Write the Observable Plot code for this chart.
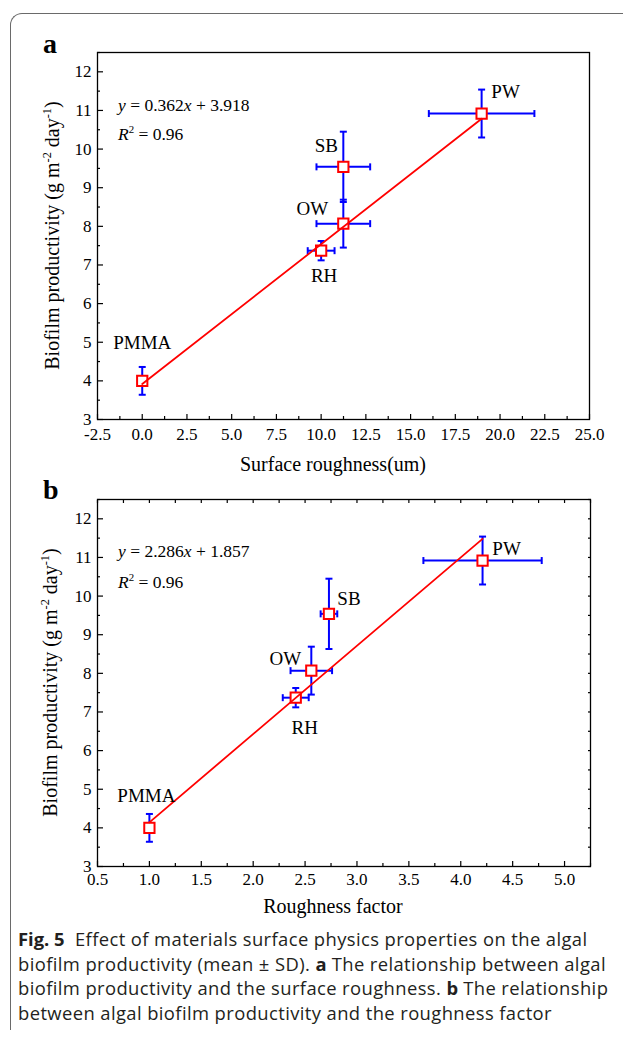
<!DOCTYPE html>
<html><head><meta charset="utf-8">
<script src="https://cdn.jsdelivr.net/npm/d3@7"></script>
<script src="https://cdn.jsdelivr.net/npm/@observablehq/plot@0.6"></script>
<style>
body{margin:0;background:#fff;width:623px;height:1037px;position:relative;overflow:hidden;}
#border{position:absolute;left:10px;top:13px;width:700px;height:1016px;border-left:1.4px solid #6a6a6a;border-top:1.4px solid #6a6a6a;border-top-left-radius:12px;}
#pa{position:absolute;left:0;top:0;}
#pb{position:absolute;left:0;top:447px;}
#cap{position:absolute;left:18px;top:927px;width:610px;font-family:"Open Sans",sans-serif;font-size:18.4px;letter-spacing:0.4px;line-height:24.7px;color:#231f20;white-space:nowrap;}
#cap b{font-weight:700;letter-spacing:0;}
svg text{font-family:"Liberation Serif","Times New Roman",serif;}
</style></head><body>
<div id="border"></div>
<div id="pa"></div>
<div id="pb"></div>
<div id="cap"><b>Fig. 5</b>&nbsp; Effect of materials surface physics properties on the algal<br>biofilm productivity (mean ± SD). <b>a</b> The relationship between algal<br>biofilm productivity and the surface roughness. <b>b</b> The relationship<br>between algal biofilm productivity and the roughness factor</div>
<script>
// ---------- data ----------
const materials = ["PMMA", "RH", "OW", "SB", "PW"];
const productivity = [4.0, 7.37, 8.07, 9.54, 10.92];
const productivitySD = [0.36, 0.25, 0.62, 0.91, 0.62];
const roughness = [0.0, 10.0, 11.24, 11.24, 18.97];
const roughnessSD = [0.0, 0.75, 1.5, 1.5, 2.95];
const roughnessFactor = [1.0, 2.41, 2.56, 2.73, 4.21];
const roughnessFactorSD = [0.04, 0.125, 0.2, 0.08, 0.57];
const fitSlopeA = 0.362, fitInterceptA = 3.918;
const fitSlopeB = 2.286, fitInterceptB = 1.857;
const r2A = "0.96", r2B = "0.96";

const yMajor = [3, 4, 5, 6, 7, 8, 9, 10, 11, 12];
const yMinor = [3.5, 4.5, 5.5, 6.5, 7.5, 8.5, 9.5, 10.5, 11.5, 12.5];
const xMajorA = [-2.5, 0, 2.5, 5, 7.5, 10, 12.5, 15, 17.5, 20, 22.5, 25];
const xMinorA = [-1.25, 1.25, 3.75, 6.25, 8.75, 11.25, 13.75, 16.25, 18.75, 21.25, 23.75];
const xMajorB = [0.5, 1.0, 1.5, 2.0, 2.5, 3.0, 3.5, 4.0, 4.5, 5.0];
const xMinorB = [0.75, 1.25, 1.75, 2.25, 2.75, 3.25, 3.75, 4.25, 4.75, 5.25];
const xTopB = [0.5, 0.75, 1.0, 1.25, 1.5, 1.75, 2.0, 2.25, 2.5, 2.75, 3.0, 3.25, 3.5, 3.75, 4.0, 4.25, 4.5, 4.75, 5.0, 5.25];
const yRightB = [3, 3.5, 4, 4.5, 5, 5.5, 6, 6.5, 7, 7.5, 8, 8.5, 9, 9.5, 10, 10.5, 11, 11.5, 12, 12.5];

// label offsets (px) for each material: [dx, dy]
const labelOffsetA = [[0, -38], [3, 25], [-31, -15], [-17, -21], [24, -22]];
const labelOffsetB = [[-3, -32], [9, 30], [-26, -12], [20, -15], [24, -12]];

// ---------- helpers ----------
const BLUE = "#0000ff", RED = "#ff0000";
const hCap = {draw(c) { c.moveTo(-3.5, 0); c.lineTo(3.5, 0); }};
const vCap = {draw(c) { c.moveTo(0, -3.5); c.lineTo(0, 3.5); }};
const fmt1 = d => d.toFixed(1);

function rowsFor(xs, xsd) {
  return materials.map((m, i) => ({name: m, x: xs[i], xsd: xsd[i], y: productivity[i], ysd: productivitySD[i]}));
}

function panel(rows, fit, opts) {
  const vCaps = rows.flatMap(d => [{x: d.x, y: d.y - d.ysd}, {x: d.x, y: d.y + d.ysd}]);
  const hRows = rows.filter(d => d.xsd > 0);
  const hCaps = hRows.flatMap(d => [{x: d.x - d.xsd, y: d.y}, {x: d.x + d.xsd, y: d.y}]);
  const marks = [
    Plot.axisX({ticks: opts.xMajor, tickSize: -5, fill: "none", label: null, strokeWidth: 1.2}),
    Plot.axisX({ticks: opts.xMinor, tickSize: -3, fill: "none", label: null, strokeWidth: 1.2}),
    Plot.axisX({ticks: opts.xMajor, tickSize: 0, tickPadding: opts.xPad, tickFormat: fmt1, label: null, fontSize: 17}),
    Plot.axisY({ticks: yMajor, tickSize: -6, fill: "none", label: null, strokeWidth: 1.2}),
    Plot.axisY({ticks: yMinor, tickSize: -3, fill: "none", label: null, strokeWidth: 1.2}),
    Plot.axisY({ticks: yMajor, tickSize: 0, tickPadding: 6, label: null, fontSize: 17}),
  ];
  if (opts.xTop) marks.push(Plot.axisX({anchor: "top", ticks: opts.xTop, tickSize: -3, fill: "none", label: null, strokeWidth: 1.2}));
  if (opts.yRight) marks.push(Plot.axisY({anchor: "right", ticks: opts.yRight, tickSize: -3, fill: "none", label: null, strokeWidth: 1.2}));
  marks.push(
    Plot.frame({stroke: "black", strokeWidth: 1.3}),
    Plot.ruleX(rows, {x: "x", y1: d => d.y - d.ysd, y2: d => d.y + d.ysd, stroke: BLUE, strokeWidth: 2}),
    Plot.ruleY(hRows, {y: "y", x1: d => d.x - d.xsd, x2: d => d.x + d.xsd, stroke: BLUE, strokeWidth: 2}),
    Plot.dot(vCaps, {x: "x", y: "y", symbol: hCap, fill: "none", stroke: BLUE, strokeWidth: 2}),
    Plot.dot(hCaps, {x: "x", y: "y", symbol: vCap, fill: "none", stroke: BLUE, strokeWidth: 2}),
    Plot.dot(rows, {x: "x", y: "y", symbol: "square", r: 5.8, fill: "white", stroke: RED, strokeWidth: 2}),
    Plot.line(fit, {x: "x", y: "y", stroke: RED, strokeWidth: 1.8}),
    ...rows.map((d, i) => Plot.text([d], {x: "x", y: "y", text: "name", dx: opts.offsets[i][0], dy: opts.offsets[i][1], fontSize: 19, fill: "black"}))
  );
  return Plot.plot({
    width: 623, height: 480,
    marginLeft: 97, marginRight: opts.mr, marginTop: 52, marginBottom: 61,
    x: {domain: opts.xDomain},
    y: {domain: [3, 12.5]},
    style: {fontFamily: "'Liberation Serif','Times New Roman',serif", fontSize: "17px", color: "black", background: "transparent", overflow: "visible"},
    marks
  });
}

function addRich(svg, x, y, parts, size, transform, anchor) {
  const t = d3.select(svg).append("text")
    .attr("x", x).attr("y", y)
    .attr("text-anchor", anchor || "start")
    .attr("font-size", size).attr("fill", "black");
  if (transform) t.attr("transform", transform);
  parts.forEach(p => {
    const s = t.append("tspan").text(p.t);
    if (p.i) s.attr("font-style", "italic");
    if (p.sup) s.attr("dy", -size * 0.42).attr("font-size", size * 0.62);
    if (p.after) s.attr("dy", size * 0.42);
  });
  return t;
}

function decorate(svg, o) {
  const sx = svg.scale("x"), sy = svg.scale("y");
  const fx = sx.range[0], fy = sy.range[1], fb = sy.range[0];
  // panel letter
  d3.select(svg).append("text").attr("x", o.letterX).attr("y", o.letterY).attr("text-anchor", "start")
    .attr("font-size", 28).attr("font-weight", "bold").attr("fill", "black").text(o.letter);
  // equation
  addRich(svg, fx + 21, fy + o.eqDy, [{t: "y", i: true}, {t: " = " + o.slope}, {t: "x", i: true}, {t: " + " + o.intercept}], 17.5);
  addRich(svg, fx + 21, fy + o.r2Dy, [{t: "R", i: true}, {t: "2", sup: true}, {t: " = " + o.r2, after: true}], 17.5);
  // x title
  d3.select(svg).append("text").attr("x", o.xTitleX).attr("y", fb + o.xTitleDy)
    .attr("text-anchor", "middle").attr("font-size", 20).attr("fill", "black").text(o.xTitle);
  // y title
  const cy = (fy + fb) / 2;
  addRich(svg, 0, 0, [
    {t: "Biofilm productivity (g m"}, {t: "-2", sup: true}, {t: " day", after: true}, {t: "-1", sup: true}, {t: ")", after: true}
  ], 20, `translate(${o.yTitleX},${cy}) rotate(-90)`, "middle");
}

// ---------- panel a ----------
const rowsA = rowsFor(roughness, roughnessSD);
const fitA = [roughness[0], roughness[4]].map(x => ({x, y: fitSlopeA * x + fitInterceptA}));
const plotA = panel(rowsA, fitA, {xDomain: [-2.5, 25], xMajor: xMajorA, xMinor: xMinorA, xPad: 8, mr: 34, offsets: labelOffsetA});
document.getElementById("pa").append(plotA);
decorate(plotA, {letter: "a", letterX: 43, letterY: 53, slope: fitSlopeA.toFixed(3), intercept: fitInterceptA.toFixed(3), r2: r2A,
  eqDy: 59, r2Dy: 88, xTitle: "Surface roughness(um)", xTitleX: 333, xTitleDy: 52, yTitleX: 59});

// ---------- panel b ----------
const rowsB = rowsFor(roughnessFactor, roughnessFactorSD);
const fitB = [roughnessFactor[0], roughnessFactor[4]].map(x => ({x, y: fitSlopeB * x + fitInterceptB}));
const plotB = panel(rowsB, fitB, {xDomain: [0.5, 5.25], xMajor: xMajorB, xMinor: xMinorB, xTop: xTopB, yRight: yRightB, xPad: 6, mr: 33, offsets: labelOffsetB});
document.getElementById("pb").append(plotB);
decorate(plotB, {letter: "b", letterX: 43, letterY: 52, slope: fitSlopeB.toFixed(3), intercept: fitInterceptB.toFixed(3), r2: r2B,
  eqDy: 58, r2Dy: 89, xTitle: "Roughness factor", xTitleX: 333, xTitleDy: 47, yTitleX: 57});
</script>
</body></html>
